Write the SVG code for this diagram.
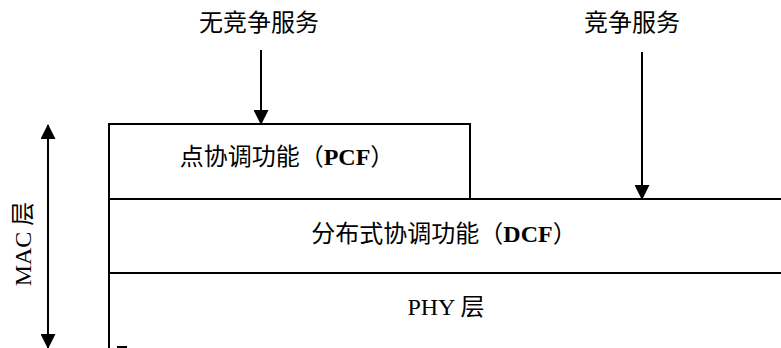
<svg xmlns="http://www.w3.org/2000/svg" width="781" height="348" viewBox="0 0 781 348">
<style>
.ln{stroke:#000;stroke-width:2;fill:none}
.t{font-family:"Liberation Serif","Noto Sans CJK SC",serif;fill:#000;text-anchor:middle}
.top{font-size:24px}
.box{font-size:24px}
.b{font-weight:bold}
</style>
<defs>
<marker id="ah" markerWidth="15" markerHeight="15" viewBox="0 0 15 15" refX="14" refY="7.5" orient="auto" markerUnits="userSpaceOnUse">
<path d="M0,0 L15,7.5 L0,15 Z" fill="#000"/>
</marker>
</defs>
<rect width="781" height="348" fill="#fff"/>
<g id="pcf">
<path class="ln" d="M109,348 V124 H470 V199"/>
<text class="t box" x="287" y="165">点协调功能（<tspan class="b">PCF</tspan>）</text>
</g>
<g id="dcf">
<path class="ln" d="M109,199 H781"/>
<text class="t box" x="444" y="242">分布式协调功能（<tspan class="b">DCF</tspan>）</text>
</g>
<g id="phy">
<path class="ln" d="M109,273 H781"/>
<text class="t box" x="446" y="315">PHY 层</text>
<path class="ln" d="M117,347 H127"/>
</g>
<g id="labels">
<text class="t top" x="259" y="31">无竞争服务</text>
<text class="t top" x="632" y="31">竞争服务</text>
<text class="t box" transform="translate(31,244) rotate(-90)" x="0" y="0">MAC 层</text>
</g>
<g id="connectors">
<line class="ln" x1="261" y1="50" x2="261" y2="124" marker-end="url(#ah)"/>
<line class="ln" x1="642" y1="52" x2="642" y2="199" marker-end="url(#ah)"/>
<line class="ln" x1="48" y1="240" x2="48" y2="125" marker-end="url(#ah)"/>
<line class="ln" x1="48" y1="240" x2="48" y2="348" marker-end="url(#ah)"/>
</g>
</svg>
